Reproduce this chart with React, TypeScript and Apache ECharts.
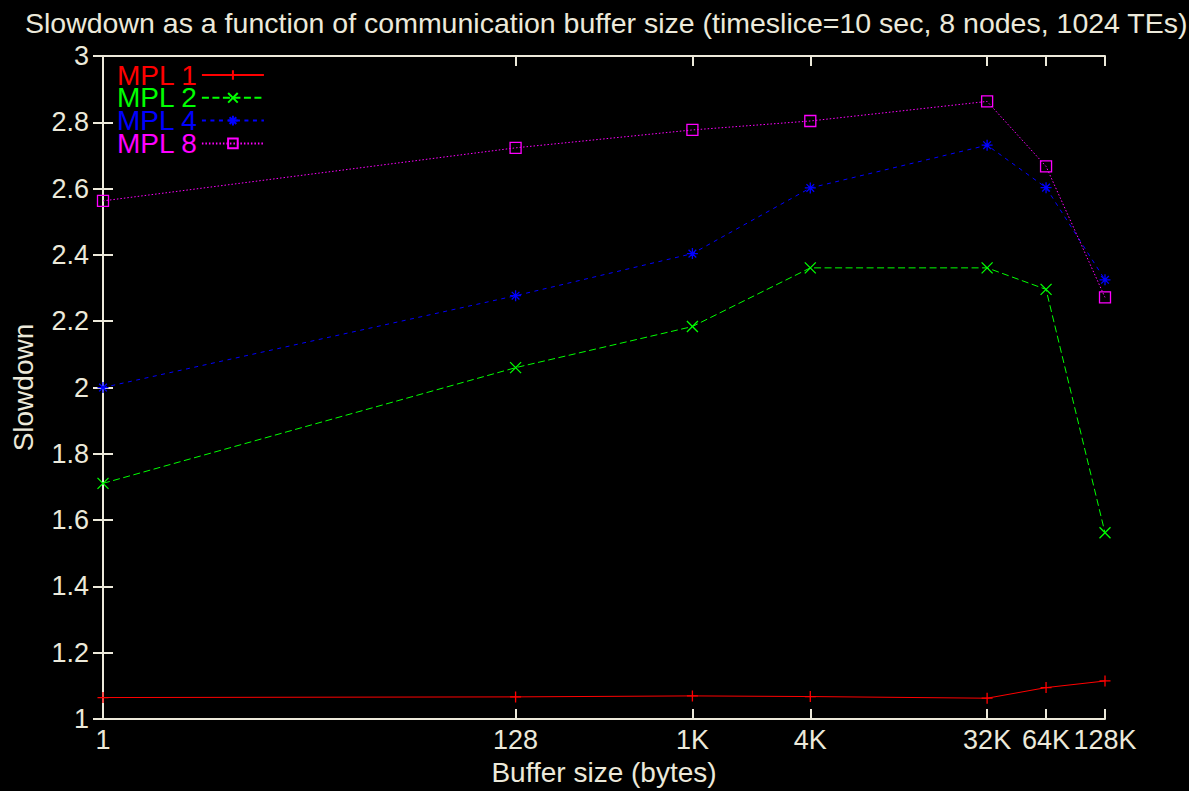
import React, { useEffect, useRef } from "react";
import * as echarts from "echarts";

const sizes = [1, 128, 1024, 4096, 32768, 65536, 131072];
const sizeLabels = ["1", "128", "1K", "4K", "32K", "64K", "128K"];
const mpl1 = [1.065, 1.067, 1.07, 1.068, 1.063, 1.095, 1.115];
const mpl2 = [1.711, 2.06, 2.184, 2.361, 2.361, 2.296, 1.562];
const mpl4 = [2.0, 2.277, 2.404, 2.602, 2.731, 2.603, 2.325];
const mpl8 = [2.563, 2.723, 2.777, 2.804, 2.863, 2.667, 2.272];
const seriesNames = ["MPL 1", "MPL 2", "MPL 4", "MPL 8"];

const FG = "#ece9da";
const FONT = "Liberation Sans, Arial, sans-serif";

const colors = ["#ff0000", "#00ff00", "#0000ff", "#ff00ff"];
const dashes: any[] = ["solid", [7, 3.5], [4, 4.5], [1.5, 2]];
const symbols = [
  "path://M0,5L10,5M5,0L5,10",
  "path://M0,0L10,10M10,0L0,10",
  "path://M0,5L10,5M5,0L5,10M1.5,1.5L8.5,8.5M8.5,1.5L1.5,8.5",
  "path://M0,0L10,0L10,10L0,10Z",
];

export default function App() {
  const ref = useRef<HTMLDivElement>(null);
  useEffect(() => {
    if (!ref.current) return;
    const chart = echarts.init(ref.current, null, { renderer: "svg" });
    const exps = sizes.map((s) => Math.log2(s));
    const labelMap: Record<string, string> = {};
    exps.forEach((e, i) => (labelMap[String(e)] = sizeLabels[i]));
    const allData = [mpl1, mpl2, mpl4, mpl8];
    const axisLine = { show: true, lineStyle: { color: FG, width: 2 } };
    const tick = { show: true, inside: true, length: 10, lineStyle: { color: FG, width: 2 } };
    chart.setOption({
      animation: false,
      backgroundColor: "#000000",
      textStyle: { fontFamily: FONT },
      title: {
        text: "Slowdown as a function of communication buffer size (timeslice=10 sec, 8 nodes, 1024 TEs)",
        left: 20,
        top: 3,
        textStyle: { color: FG, fontSize: 28.5, fontWeight: "normal", fontFamily: FONT },
      },
      grid: { left: 103, right: 84, top: 56, bottom: 71, containLabel: false },
      legend: {
        left: 116,
        top: 61,
        orient: "vertical",
        align: "right",
        itemWidth: 62,
        itemHeight: 12,
        itemGap: -5.2,
        padding: 0,
        data: seriesNames.map((n, i) => ({
          name: n,
          textStyle: { color: colors[i], fontSize: 28, fontFamily: FONT },
        })),
      },
      xAxis: [
        {
          type: "value",
          min: 0,
          max: 17,
          position: "bottom",
          name: "Buffer size (bytes)",
          nameLocation: "middle",
          nameGap: 37,
          nameTextStyle: { color: FG, fontSize: 28, fontFamily: FONT },
          axisLine,
          axisTick: { ...tick, customValues: exps },
          axisLabel: {
            customValues: exps,
            color: FG,
            fontSize: 27,
            margin: 7,
            fontFamily: FONT,
            formatter: (v: number) => labelMap[String(v)] ?? "",
          },
          splitLine: { show: false },
        },
        {
          type: "value",
          min: 0,
          max: 17,
          position: "top",
          axisLine,
          axisTick: { ...tick, customValues: exps },
          axisLabel: { show: false },
          splitLine: { show: false },
        },
      ],
      yAxis: [
        {
          type: "value",
          min: 1,
          max: 3,
          interval: 0.2,
          position: "left",
          name: "Slowdown",
          nameLocation: "middle",
          nameGap: 66,
          nameTextStyle: { color: FG, fontSize: 28, fontFamily: FONT },
          axisLine,
          axisTick: tick,
          axisLabel: {
            color: FG,
            fontSize: 27,
            margin: 14,
            fontFamily: FONT,
            formatter: (v: number) => String(Math.round(v * 10) / 10),
          },
          splitLine: { show: false },
        },
        {
          type: "value",
          min: 1,
          max: 3,
          interval: 0.2,
          position: "right",
          axisLine,
          axisTick: tick,
          axisLabel: { show: false },
          splitLine: { show: false },
        },
      ],
      series: allData.map((d, i) => ({
        name: seriesNames[i],
        type: "line",
        xAxisIndex: 0,
        yAxisIndex: 0,
        data: d.map((v, j) => [exps[j], v]),
        symbol: symbols[i],
        symbolSize: 11,
        showSymbol: true,
        lineStyle: { color: colors[i], width: 1, type: dashes[i] },
        itemStyle: { color: "rgba(0,0,0,0)", borderColor: colors[i], borderWidth: 1.3 },
        emphasis: { disabled: true },
      })),
    });
    return () => chart.dispose();
  }, []);
  return (
    <div
      ref={ref}
      style={{ position: "fixed", left: 0, top: 0, width: "1189px", height: "791px", background: "#000" }}
    />
  );
}
